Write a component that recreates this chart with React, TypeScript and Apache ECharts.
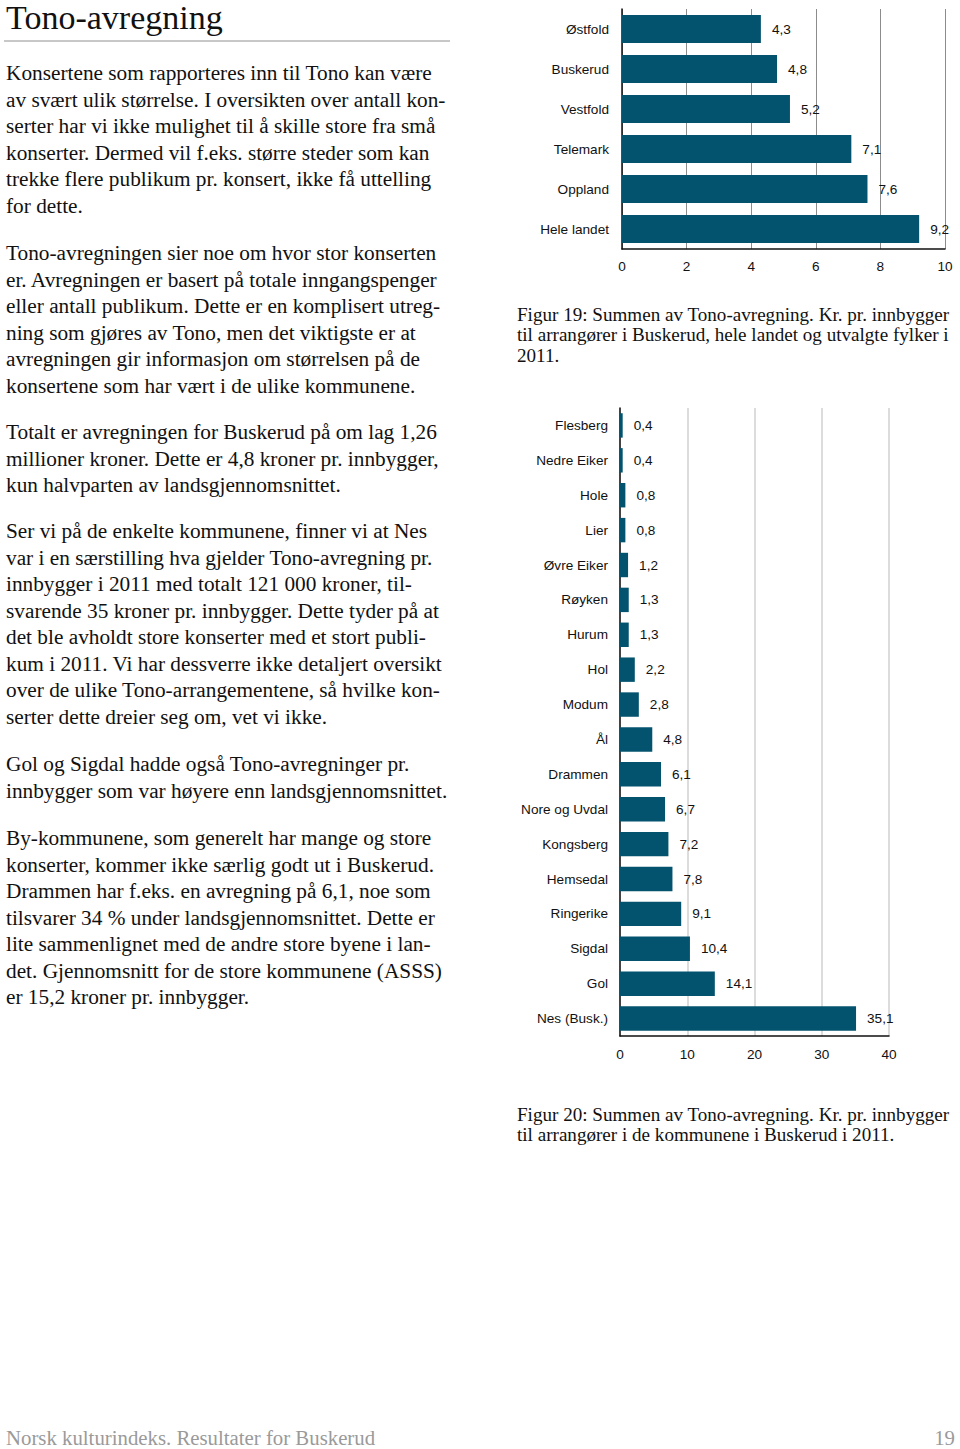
import React, { useEffect, useRef } from "react";
import * as echarts from "echarts";

const fylker = ["Østfold", "Buskerud", "Vestfold", "Telemark", "Oppland", "Hele landet"];
const fylkeVerdier = [4.3, 4.8, 5.2, 7.1, 7.6, 9.2];

const kommuner = [
  "Flesberg", "Nedre Eiker", "Hole", "Lier", "Øvre Eiker", "Røyken", "Hurum", "Hol", "Modum",
  "Ål", "Drammen", "Nore og Uvdal", "Kongsberg", "Hemsedal", "Ringerike", "Sigdal", "Gol", "Nes (Busk.)",
];
const kommuneVerdier = [0.4, 0.4, 0.8, 0.8, 1.2, 1.3, 1.3, 2.2, 2.8, 4.8, 6.1, 6.7, 7.2, 7.8, 9.1, 10.4, 14.1, 35.1];

const title = "Tono-avregning";
const paragraphs: string[][] = [
  [
    "Konsertene som rapporteres inn til Tono kan være",
    "av svært ulik størrelse. I oversikten over antall kon-",
    "serter har vi ikke mulighet til å skille store fra små",
    "konserter. Dermed vil f.eks. større steder som kan",
    "trekke flere publikum pr. konsert, ikke få uttelling",
    "for dette.",
  ],
  [
    "Tono-avregningen sier noe om hvor stor konserten",
    "er. Avregningen er basert på totale inngangspenger",
    "eller antall publikum. Dette er en komplisert utreg-",
    "ning som gjøres av Tono, men det viktigste er at",
    "avregningen gir informasjon om størrelsen på de",
    "konsertene som har vært i de ulike kommunene.",
  ],
  [
    "Totalt er avregningen for Buskerud på om lag 1,26",
    "millioner kroner. Dette er 4,8 kroner pr. innbygger,",
    "kun halvparten av landsgjennomsnittet.",
  ],
  [
    "Ser vi på de enkelte kommunene, finner vi at Nes",
    "var i en særstilling hva gjelder Tono-avregning pr.",
    "innbygger i 2011 med totalt 121 000 kroner, til-",
    "svarende 35 kroner pr. innbygger. Dette tyder på at",
    "det ble avholdt store konserter med et stort publi-",
    "kum i 2011. Vi har dessverre ikke detaljert oversikt",
    "over de ulike Tono-arrangementene, så hvilke kon-",
    "serter dette dreier seg om, vet vi ikke.",
  ],
  [
    "Gol og Sigdal hadde også Tono-avregninger pr.",
    "innbygger som var høyere enn landsgjennomsnittet.",
  ],
  [
    "By-kommunene, som generelt har mange og store",
    "konserter, kommer ikke særlig godt ut i Buskerud.",
    "Drammen har f.eks. en avregning på 6,1, noe som",
    "tilsvarer 34 % under landsgjennomsnittet. Dette er",
    "lite sammenlignet med de andre store byene i lan-",
    "det. Gjennomsnitt for de store kommunene (ASSS)",
    "er 15,2 kroner pr. innbygger.",
  ],
];
const paraStarts = [73, 253, 432, 531, 764, 838];

const caption19 = [
  "Figur 19: Summen av Tono-avregning. Kr. pr. innbygger",
  "til arrangører i Buskerud, hele landet og utvalgte fylker i",
  "2011.",
];
const caption20 = [
  "Figur 20: Summen av Tono-avregning. Kr. pr. innbygger",
  "til arrangører i de kommunene i Buskerud i 2011.",
];
const footerLeft = "Norsk kulturindeks. Resultater for Buskerud";
const footerRight = "19";

const BAR = "#04536e";
const SERIF = "'Liberation Serif', 'Times New Roman', serif";
const SANS = "'Liberation Sans', Arial, sans-serif";
const LABEL_SIZE = 13.6;

const fmt = (v: number) => v.toFixed(1).replace(".", ",");

export default function App() {
  const ref = useRef<HTMLDivElement>(null);
  useEffect(() => {
    if (!ref.current) return;
    const chart = echarts.init(ref.current, null, { renderer: "svg" });

    const graphics: any[] = [];
    const txt = (text: string, x: number, y: number, size: number, fill = "#111", align = "left", family = SERIF) =>
      graphics.push({
        type: "text",
        x,
        y,
        style: { text, fontSize: size, fontFamily: family, fill, align, verticalAlign: "middle" },
      });

    txt(title, 6, 17, 34);
    graphics.push({
      type: "line",
      shape: { x1: 4, y1: 41, x2: 450, y2: 41 },
      style: { stroke: "#c8c8c8", lineWidth: 2 },
    });
    const LH = 26.55;
    paragraphs.forEach((lines, pi) => {
      lines.forEach((l, li) => txt(l, 6, paraStarts[pi] + li * LH, 21.3));
    });
    caption19.forEach((l, i) => txt(l, 517, 314 + i * 20.5, 19.1));
    caption20.forEach((l, i) => txt(l, 517, 1114 + i * 20.5, 19.1));
    txt(footerLeft, 6, 1437, 20.8, "#9a9a9a");
    txt(footerRight, 955, 1437, 20.8, "#9a9a9a", "right");

    const labelCommon = {
      show: true,
      position: "right",
      distance: 11,
      color: "#111",
      fontSize: LABEL_SIZE,
      fontFamily: SANS,
      formatter: (p: any) => fmt(p.value),
    };

    chart.setOption({
      animation: false,
      backgroundColor: "#fff",
      grid: [
        { left: 622, top: 9, width: 323, height: 240 },
        { left: 620, top: 408, width: 269, height: 628 },
      ],
      xAxis: [
        {
          gridIndex: 0,
          type: "value",
          min: 0,
          max: 10,
          interval: 2,
          axisLine: { show: true, lineStyle: { color: "#111", width: 1.5 } },
          axisTick: { show: false },
          axisLabel: { color: "#111", fontSize: LABEL_SIZE, fontFamily: SANS, margin: 10 },
          splitLine: { show: true, lineStyle: { color: "#8c8c8c", width: 1 } },
        },
        {
          gridIndex: 1,
          type: "value",
          min: 0,
          max: 40,
          interval: 10,
          axisLine: { show: true, lineStyle: { color: "#111", width: 1.5 } },
          axisTick: { show: false },
          axisLabel: { color: "#111", fontSize: LABEL_SIZE, fontFamily: SANS, margin: 11 },
          splitLine: { show: true, lineStyle: { color: "#d0d0d0", width: 1.5 } },
        },
      ],
      yAxis: [
        {
          gridIndex: 0,
          type: "category",
          data: fylker,
          inverse: true,
          axisLine: { show: true, lineStyle: { color: "#111", width: 1.5 } },
          axisTick: { show: false },
          axisLabel: { color: "#111", fontSize: LABEL_SIZE, fontFamily: SANS, margin: 13 },
        },
        {
          gridIndex: 1,
          type: "category",
          data: kommuner,
          inverse: true,
          axisLine: { show: true, lineStyle: { color: "#111", width: 1.5 } },
          axisTick: { show: false },
          axisLabel: { color: "#111", fontSize: LABEL_SIZE, fontFamily: SANS, margin: 12 },
        },
      ],
      series: [
        {
          type: "bar",
          xAxisIndex: 0,
          yAxisIndex: 0,
          data: fylkeVerdier,
          barCategoryGap: "30%",
          itemStyle: { color: BAR },
          label: labelCommon,
        },
        {
          type: "bar",
          xAxisIndex: 1,
          yAxisIndex: 1,
          data: kommuneVerdier,
          barCategoryGap: "30%",
          itemStyle: { color: BAR },
          label: labelCommon,
        },
      ],
      graphic: graphics,
    });
    return () => chart.dispose();
  }, []);
  return (
    <div
      ref={ref}
      style={{ position: "absolute", left: 0, top: 0, width: 960, height: 1449, background: "#fff" }}
    />
  );
}
